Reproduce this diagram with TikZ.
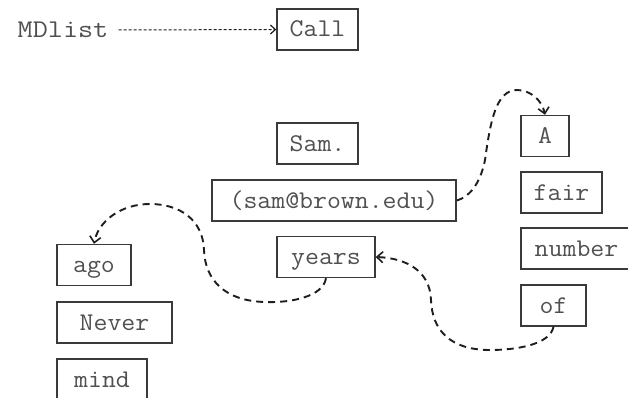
\documentclass[tikz,border=0pt]{standalone}
\usepackage{fontspec}
\usetikzlibrary{arrows.meta}
\definecolor{wordgray}{HTML}{505050}
\definecolor{boxgray}{HTML}{3A3A3A}
\definecolor{linkdark}{HTML}{1E1E1E}
\newcommand{\wordfont}{\ttfamily\fontsize{25.5}{25.5}\selectfont}
% typewriter words, set a little wider than the font's own advance
\newcommand{\stretched}[1]{\scalebox{1.06}[1]{#1}}
\begin{document}
\begin{tikzpicture}[x=1pt,y=-1pt,
  word/.style={draw=boxgray,line width=1.4pt,text=wordgray,font=\wordfont,
    minimum height=41pt,inner sep=0pt,text height=18pt,text depth=3pt,anchor=center},
  label/.style={text=wordgray,font=\wordfont,inner sep=0pt,text height=18pt,text depth=3pt},
  link/.style={draw=linkdark,line width=1.9pt,dash pattern=on 7pt off 5pt,
    -{Straight Barb[length=6pt,width=11pt,line width=1.6pt]}},
  pointer/.style={draw=linkdark,line width=1pt,dash pattern=on 3pt off 2pt,
    -{Straight Barb[length=5pt,width=9pt,line width=1.2pt]}}]
\clip (0,0) rectangle (628,398);
\fill[white] (0,0) rectangle (628,398);

% list head
\node[label] (md) at (63,30) {\scalebox{1.15}[1]{MDlist}};
\node[word,minimum width=81pt] (call) at (317.5,29.5) {\stretched{Call}};

% middle column
\node[word,minimum width=81pt] (sam) at (317.5,143.5) {\stretched{Sam.}};
\node[word,minimum width=244pt] (email) at (334,200.5) {\stretched{(sam@brown.edu)}};
\node[word,minimum width=98pt] (years) at (326,257) {\stretched{years}};

% right column
\node[word,minimum width=48pt] (a) at (545,136) {\stretched{A}};
\node[word,minimum width=81pt] (fair) at (561.5,192.5) {\stretched{fair}};
\node[word,minimum width=111pt] (number) at (576.5,248.5) {\stretched{number}};
\node[word,minimum width=65pt] (of) at (553.5,305.5) {\stretched{of}};

% left column
\node[word,minimum width=74pt] (ago) at (94,265) {\stretched{ago}};
\node[word,minimum width=115pt] (never) at (114.5,322.5) {\stretched{Never}};
\node[word,minimum width=90pt] (mind) at (102,379.5) {\stretched{mind}};

% links
\draw[pointer] (md.east) ++(10,0) -- (call.west);
\draw[link] (email.east) .. controls (472,196) and (481,180) .. (485,160)
  .. controls (490,125) and (495,90) .. (517,90)
  .. controls (530,90) and (542,100) .. (a.north);
\draw[link] (years.south) .. controls (323,297) and (290,303) .. (265,302)
  .. controls (225,301) and (205,280) .. (204,250)
  .. controls (203,220) and (180,204) .. (150,204)
  .. controls (120,204) and (98,222) .. (ago.north);
\draw[link] (of.south) .. controls (550,345) and (515,350) .. (490,350)
  .. controls (450,350) and (432,330) .. (431,300)
  .. controls (430,270) and (405,258) .. (years.east);
\end{tikzpicture}
\end{document}
